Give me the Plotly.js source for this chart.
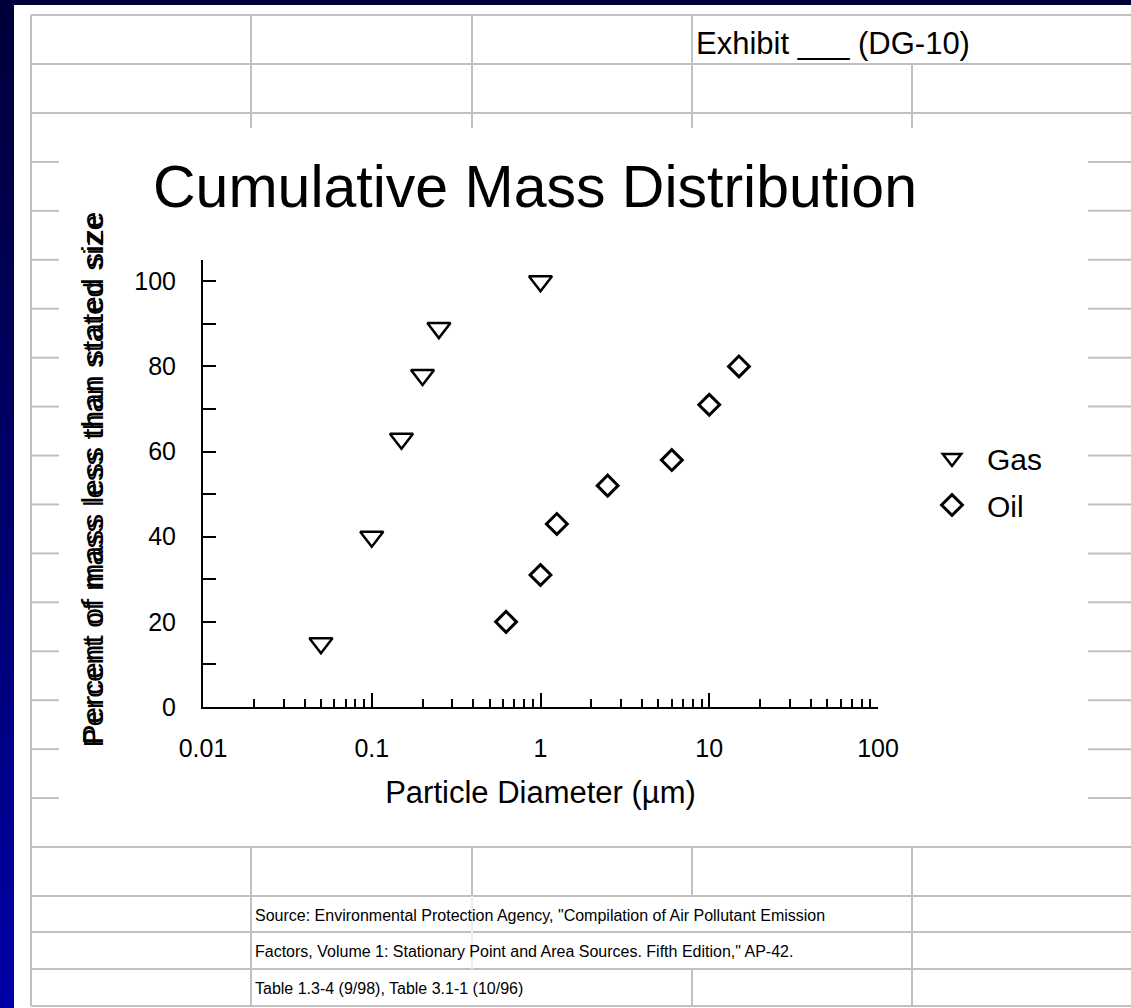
<!DOCTYPE html>
<html><head><meta charset="utf-8">
<script src="https://cdn.plot.ly/plotly-3.0.1.min.js"></script>
<style>
html,body{margin:0;padding:0;}
body{width:1131px;height:1008px;overflow:hidden;position:relative;
  background:linear-gradient(to bottom,#00003a 0%,#000070 55%,#0000a8 100%);}
#sheet{position:absolute;left:14px;top:5px;width:1117px;height:1003px;background:#fff;}
#grid{position:absolute;left:0;top:0;}
#chart{position:absolute;left:0;top:0;width:1131px;height:1008px;}
.annotation[data-index="0"] text{letter-spacing:1px;}
.annotation[data-index="1"] text{letter-spacing:1.9px;}
</style></head>
<body>
<div id="sheet"></div>
<svg id="grid" width="1131" height="1008" xmlns="http://www.w3.org/2000/svg"></svg>
<div id="chart"></div>
<script>
// ---- data ----
const seriesNames = ['Gas', 'Oil'];
const gasDiameter = [0.05, 0.1, 0.15, 0.2, 0.25, 1];
const gasPercent  = [15, 40, 63, 78, 89, 100];
const oilDiameter = [0.625, 1, 1.25, 2.5, 6, 10, 15];
const oilPercent  = [20, 31, 43, 52, 58, 71, 80];
const xTickVals = [0.01, 0.1, 1, 10, 100];
const xTickText = ['0.01', '0.1', '1', '10', '100'];
const yTickVals = [0, 20, 40, 60, 80, 100];
const yMinorVals = [10, 30, 50, 70, 90];
const chartTitle = 'Cumulative Mass Distribution';
const xTitle = 'Particle Diameter (µm)';
const yTitle = 'Percent of mass less than stated size';
const exhibitText = 'Exhibit ___ (DG-10)';
const sourceLines = [
  'Source: Environmental Protection Agency, "Compilation of Air Pollutant Emission',
  'Factors, Volume 1: Stationary Point and Area Sources. Fifth Edition," AP-42.',
  'Table 1.3-4 (9/98), Table 3.1-1 (10/96)'
];

// minor log ticks (2..9 per decade)
const xMinorVals = [];
for (let d = -2; d < 2; d++) for (let k = 2; k <= 9; k++) xMinorVals.push(k * Math.pow(10, d));

// ---- spreadsheet grid background ----
const svg = document.getElementById('grid');
const G = '#c0c0c0';
function line(x1, y1, x2, y2, c, w) {
  const l = document.createElementNS('http://www.w3.org/2000/svg', 'line');
  l.setAttribute('x1', x1); l.setAttribute('y1', y1);
  l.setAttribute('x2', x2); l.setAttribute('y2', y2);
  l.setAttribute('stroke', c || G); l.setAttribute('stroke-width', w || 2);
  svg.appendChild(l);
}
const L = 31, R = 1131;
line(L, 15, L, 1006);
[15, 64, 113, 847, 896, 932, 969, 1006].forEach(y => line(L, y, R, y));
for (let k = 1; k <= 14; k++) {
  const y = 113 + k * (847 - 113) / 15;
  line(L, y, 59, y); line(1088, y, R, y);
}
[251, 472, 692].forEach(x => line(x, 15, x, 64));
[251, 472, 692, 912].forEach(x => line(x, 64, x, 128));
[251, 472, 692, 912].forEach(x => line(x, 847, x, 896));
[251, 912].forEach(x => { line(x, 896, x, 932); line(x, 932, x, 969); });
line(472, 896, 472, 932, '#ececec', 2);
line(472, 932, 472, 969, '#ececec', 2);
[251, 692, 912].forEach(x => line(x, 969, x, 1006));

// ---- plot ----
const W = 1131, H = 1008;
const mL = 203, mR = 253, mT = 260, mB = 301;
const pw = W - mL - mR, ph = H - mT - mB;
const px = x => (x - mL) / pw;
const py = y => (H - mB - y) / ph;
const FONT = 'Liberation Sans, Arial, sans-serif';

const traces = [
  { x: gasDiameter, y: gasPercent, name: seriesNames[0], type: 'scatter', mode: 'markers',
    legendgroup: 'g', cliponaxis: false,
    marker: { symbol: 'triangle-down-open', size: 20, color: '#000', line: { color: '#000', width: 2.5 } } },
  { x: oilDiameter, y: oilPercent, name: seriesNames[1], type: 'scatter', mode: 'markers',
    legendgroup: 'o', cliponaxis: false,
    marker: { symbol: 'diamond-open', size: 16, color: '#000', line: { color: '#000', width: 3 } } }
];

const annotations = [
  { text: yTitle, textangle: -90, xref: 'paper', yref: 'paper', x: px(92), y: py(478),
    xanchor: 'center', yanchor: 'middle', showarrow: false,
    font: { family: FONT, size: 30, color: '#000' } },
  { text: yTitle, textangle: -90, xref: 'paper', yref: 'paper', x: px(93), y: py(480),
    xanchor: 'center', yanchor: 'middle', showarrow: false,
    font: { family: FONT, size: 28, color: '#000' } },
  { text: exhibitText, xref: 'paper', yref: 'paper', x: px(694), y: py(43),
    xanchor: 'left', yanchor: 'middle', showarrow: false,
    font: { family: FONT, size: 31, color: '#000' } }
];
const srcY = [915, 951, 988];
sourceLines.forEach((t, i) => annotations.push({
  text: t, xref: 'paper', yref: 'paper', x: px(253), y: py(srcY[i]),
  xanchor: 'left', yanchor: 'middle', showarrow: false,
  font: { family: FONT, size: 16, color: '#000' }
}));

const layout = {
  width: W, height: H,
  margin: { l: mL, r: mR, t: mT, b: mB, pad: 0 },
  paper_bgcolor: 'rgba(0,0,0,0)', plot_bgcolor: 'rgba(0,0,0,0)',
  font: { family: FONT, color: '#000' },
  title: { text: chartTitle, font: { family: FONT, size: 59, color: '#000' },
    xref: 'container', yref: 'container', x: 535 / W, y: 1 - 186 / H,
    xanchor: 'center', yanchor: 'middle' },
  showlegend: true,
  legend: { x: px(917), y: py(432), xanchor: 'left', yanchor: 'top', xref: 'paper', yref: 'paper',
    bgcolor: 'rgba(0,0,0,0)', borderwidth: 0, itemwidth: 60, tracegroupgap: 5,
    traceorder: 'grouped', font: { family: FONT, size: 30, color: '#000' } },
  xaxis: {
    type: 'log', range: [-2, 2], tickmode: 'array', tickvals: xTickVals, ticktext: xTickText,
    ticks: 'inside', ticklen: 14, tickwidth: 2, tickcolor: '#000',
    showline: true, linecolor: '#000', linewidth: 2, showgrid: false, zeroline: false,
    tickfont: { family: FONT, size: 25, color: '#000' }, ticklabelstandoff: 18,
    minor: { tickmode: 'array', tickvals: xMinorVals, ticks: 'inside', ticklen: 8, tickwidth: 2,
      tickcolor: '#000', showgrid: false },
    title: { text: xTitle, font: { family: FONT, size: 31, color: '#000' }, standoff: 20 },
    automargin: false, fixedrange: true
  },
  yaxis: {
    range: [0, 105], tickmode: 'array', tickvals: yTickVals,
    ticks: 'inside', ticklen: 13, tickwidth: 2, tickcolor: '#000',
    showline: true, linecolor: '#000', linewidth: 2, showgrid: false, zeroline: false,
    tickfont: { family: FONT, size: 25, color: '#000' }, ticklabelstandoff: 20,
    minor: { tickmode: 'array', tickvals: yMinorVals, ticks: 'inside', ticklen: 13, tickwidth: 2,
      tickcolor: '#000', showgrid: false },
    automargin: false, fixedrange: true
  },
  annotations: annotations
};

Plotly.newPlot('chart', traces, layout, { displayModeBar: false, staticPlot: true });
</script>
</body></html>
